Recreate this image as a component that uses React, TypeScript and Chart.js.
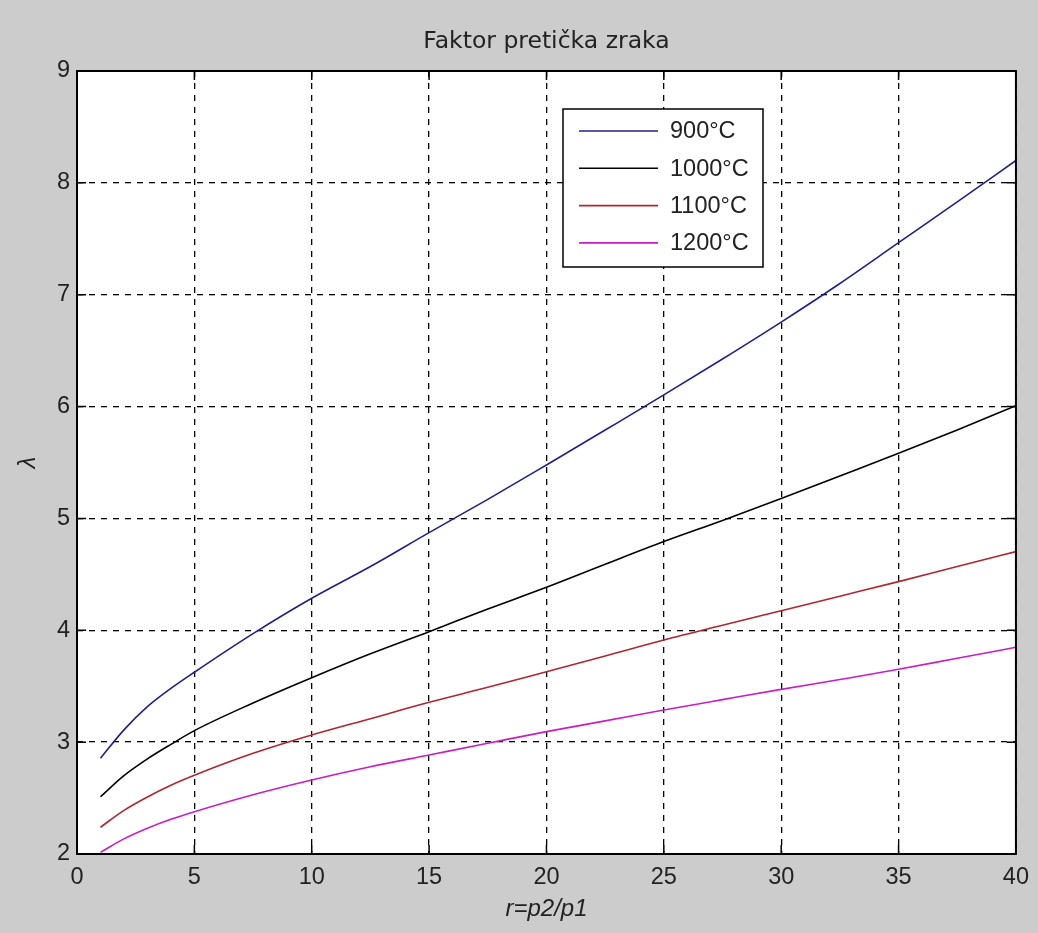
import React, { useEffect, useRef } from "react";
import { Chart, registerables } from "chart.js";

Chart.register(...registerables);

const chartTitle = "Faktor pretička zraka";
const xAxisTitle = "r=p2/p1";
const yAxisTitle = "λ";

const xValues = [1, 2, 3, 4, 5, 7.5, 10, 12.5, 15, 17.5, 20, 22.5, 25, 27.5, 30, 32.5, 35, 37.5, 40];
const series900 = [2.856, 3.11, 3.317, 3.48, 3.625, 3.97, 4.286, 4.57, 4.873, 5.17, 5.478, 5.79, 6.104, 6.425, 6.755, 7.1, 7.465, 7.83, 8.2];
const series1000 = [2.512, 2.7, 2.85, 2.98, 3.103, 3.35, 3.576, 3.79, 3.988, 4.19, 4.384, 4.59, 4.793, 4.982, 5.178, 5.38, 5.582, 5.79, 6.008];
const series1100 = [2.239, 2.39, 2.51, 2.615, 2.704, 2.9, 3.064, 3.21, 3.356, 3.49, 3.63, 3.77, 3.913, 4.045, 4.175, 4.305, 4.435, 4.57, 4.703];
const series1200 = [2.015, 2.135, 2.23, 2.31, 2.378, 2.53, 2.662, 2.78, 2.885, 2.99, 3.094, 3.19, 3.287, 3.38, 3.472, 3.56, 3.651, 3.75, 3.848];

const seriesLabels = ["900°C", "1000°C", "1100°C", "1200°C"];
const seriesColors = ["#1f1f8f", "#000000", "#b0262e", "#c81ec8"];
const seriesValues = [series900, series1000, series1100, series1200];

const xMin = 0;
const xMax = 40;
const xStep = 5;
const yMin = 2;
const yMax = 9;
const yStep = 1;

const TICK_FONT = "'Liberation Sans', Arial, sans-serif";

const framePlugin = {
  id: "matlabFrame",
  beforeDraw(chart: any) {
    const { ctx, chartArea, width, height } = chart;
    ctx.save();
    ctx.fillStyle = "#cccccc";
    ctx.fillRect(0, 0, width, height);
    ctx.fillStyle = "#ffffff";
    ctx.fillRect(chartArea.left, chartArea.top, chartArea.right - chartArea.left, chartArea.bottom - chartArea.top);
    ctx.restore();
  },
  afterDatasetsDraw(chart: any) {
    const { ctx, chartArea, scales } = chart;
    const { left, right, top, bottom } = chartArea;
    ctx.save();
    // title centred over the axes
    ctx.fillStyle = "#222";
    ctx.font = "23.5px 'DejaVu Sans', sans-serif";
    ctx.textAlign = "center";
    ctx.textBaseline = "middle";
    ctx.fillText(chartTitle, (left + right) / 2, top - 29);

    // inward tick marks
    ctx.strokeStyle = "#000";
    ctx.lineWidth = 1.5;
    ctx.setLineDash([]);
    const tl = 9;
    scales.x.ticks.forEach((t: any) => {
      const px = scales.x.getPixelForValue(t.value);
      ctx.beginPath();
      ctx.moveTo(px, bottom);
      ctx.lineTo(px, bottom - tl);
      ctx.moveTo(px, top);
      ctx.lineTo(px, top + tl);
      ctx.stroke();
    });
    scales.y.ticks.forEach((t: any) => {
      const py = scales.y.getPixelForValue(t.value);
      ctx.beginPath();
      ctx.moveTo(left, py);
      ctx.lineTo(left + tl, py);
      ctx.moveTo(right, py);
      ctx.lineTo(right - tl, py);
      ctx.stroke();
    });
    // box
    ctx.lineWidth = 2;
    ctx.strokeRect(left, top, right - left, bottom - top);

    // legend
    const lx = left + 486;
    const ly = top + 38;
    const lw = 200;
    const lh = 158;
    ctx.fillStyle = "#ffffff";
    ctx.fillRect(lx, ly, lw, lh);
    ctx.lineWidth = 1.5;
    ctx.strokeStyle = "#000";
    ctx.strokeRect(lx, ly, lw, lh);
    ctx.font = `23.5px ${TICK_FONT}`;
    ctx.textBaseline = "middle";
    ctx.textAlign = "left";
    chart.data.datasets.forEach((ds: any, i: number) => {
      const y = ly + 22 + i * 37.3;
      ctx.strokeStyle = ds.borderColor;
      ctx.lineWidth = 1.6;
      ctx.beginPath();
      ctx.moveTo(lx + 16, y);
      ctx.lineTo(lx + 95, y);
      ctx.stroke();
      ctx.fillStyle = "#222";
      ctx.fillText(ds.label, lx + 107, y + 1);
    });
    ctx.restore();
  },
};

export default function App() {
  const canvasRef = useRef<HTMLCanvasElement | null>(null);

  useEffect(() => {
    if (!canvasRef.current) return;
    const datasets = seriesValues.map((vals, i) => ({
      label: seriesLabels[i],
      data: xValues.map((x, j) => ({ x, y: vals[j] })),
      borderColor: seriesColors[i],
      backgroundColor: seriesColors[i],
      borderWidth: 1.6,
      pointRadius: 0,
      cubicInterpolationMode: "monotone" as const,
      fill: false,
    }));
    const chart = new Chart(canvasRef.current, {
      type: "line",
      data: { datasets },
      plugins: [framePlugin],
      options: {
        animation: false,
        responsive: false,
        devicePixelRatio: 1,
        layout: { padding: { left: 0, right: 21, top: 71, bottom: 0 } },
        plugins: {
          legend: { display: false },
          tooltip: { enabled: false },
          title: { display: false },
        },
        scales: {
          x: {
            type: "linear",
            min: xMin,
            max: xMax,
            afterFit: (s: any) => {
              s.height = 79;
            },
            ticks: {
              stepSize: xStep,
              padding: 9,
              color: "#222",
              font: { family: TICK_FONT, size: 23.5 },
              maxRotation: 0,
            },
            grid: { color: "#000", lineWidth: 1.3, drawTicks: false },
            border: { display: false, dash: [6, 6] },
            title: {
              display: true,
              text: xAxisTitle,
              color: "#222",
              font: { family: TICK_FONT, size: 24, style: "italic" },
              padding: { top: 0, bottom: 9 },
            },
          },
          y: {
            type: "linear",
            min: yMin,
            max: yMax,
            afterFit: (s: any) => {
              s.width = 77;
            },
            ticks: {
              stepSize: yStep,
              padding: 7,
              color: "#222",
              font: { family: TICK_FONT, size: 23.5 },
            },
            grid: { color: "#000", lineWidth: 1.3, drawTicks: false },
            border: { display: false, dash: [6, 6] },
            title: {
              display: true,
              text: yAxisTitle,
              color: "#222",
              font: { family: TICK_FONT, size: 24, style: "italic" },
              padding: { top: 14, bottom: 0 },
            },
          },
        },
      },
    } as any);
    return () => chart.destroy();
  }, []);

  return (
    <div style={{ position: "absolute", left: 0, top: 0, width: 1038, height: 933 }}>
      <canvas ref={canvasRef} width={1038} height={933} style={{ display: "block" }} />
    </div>
  );
}
